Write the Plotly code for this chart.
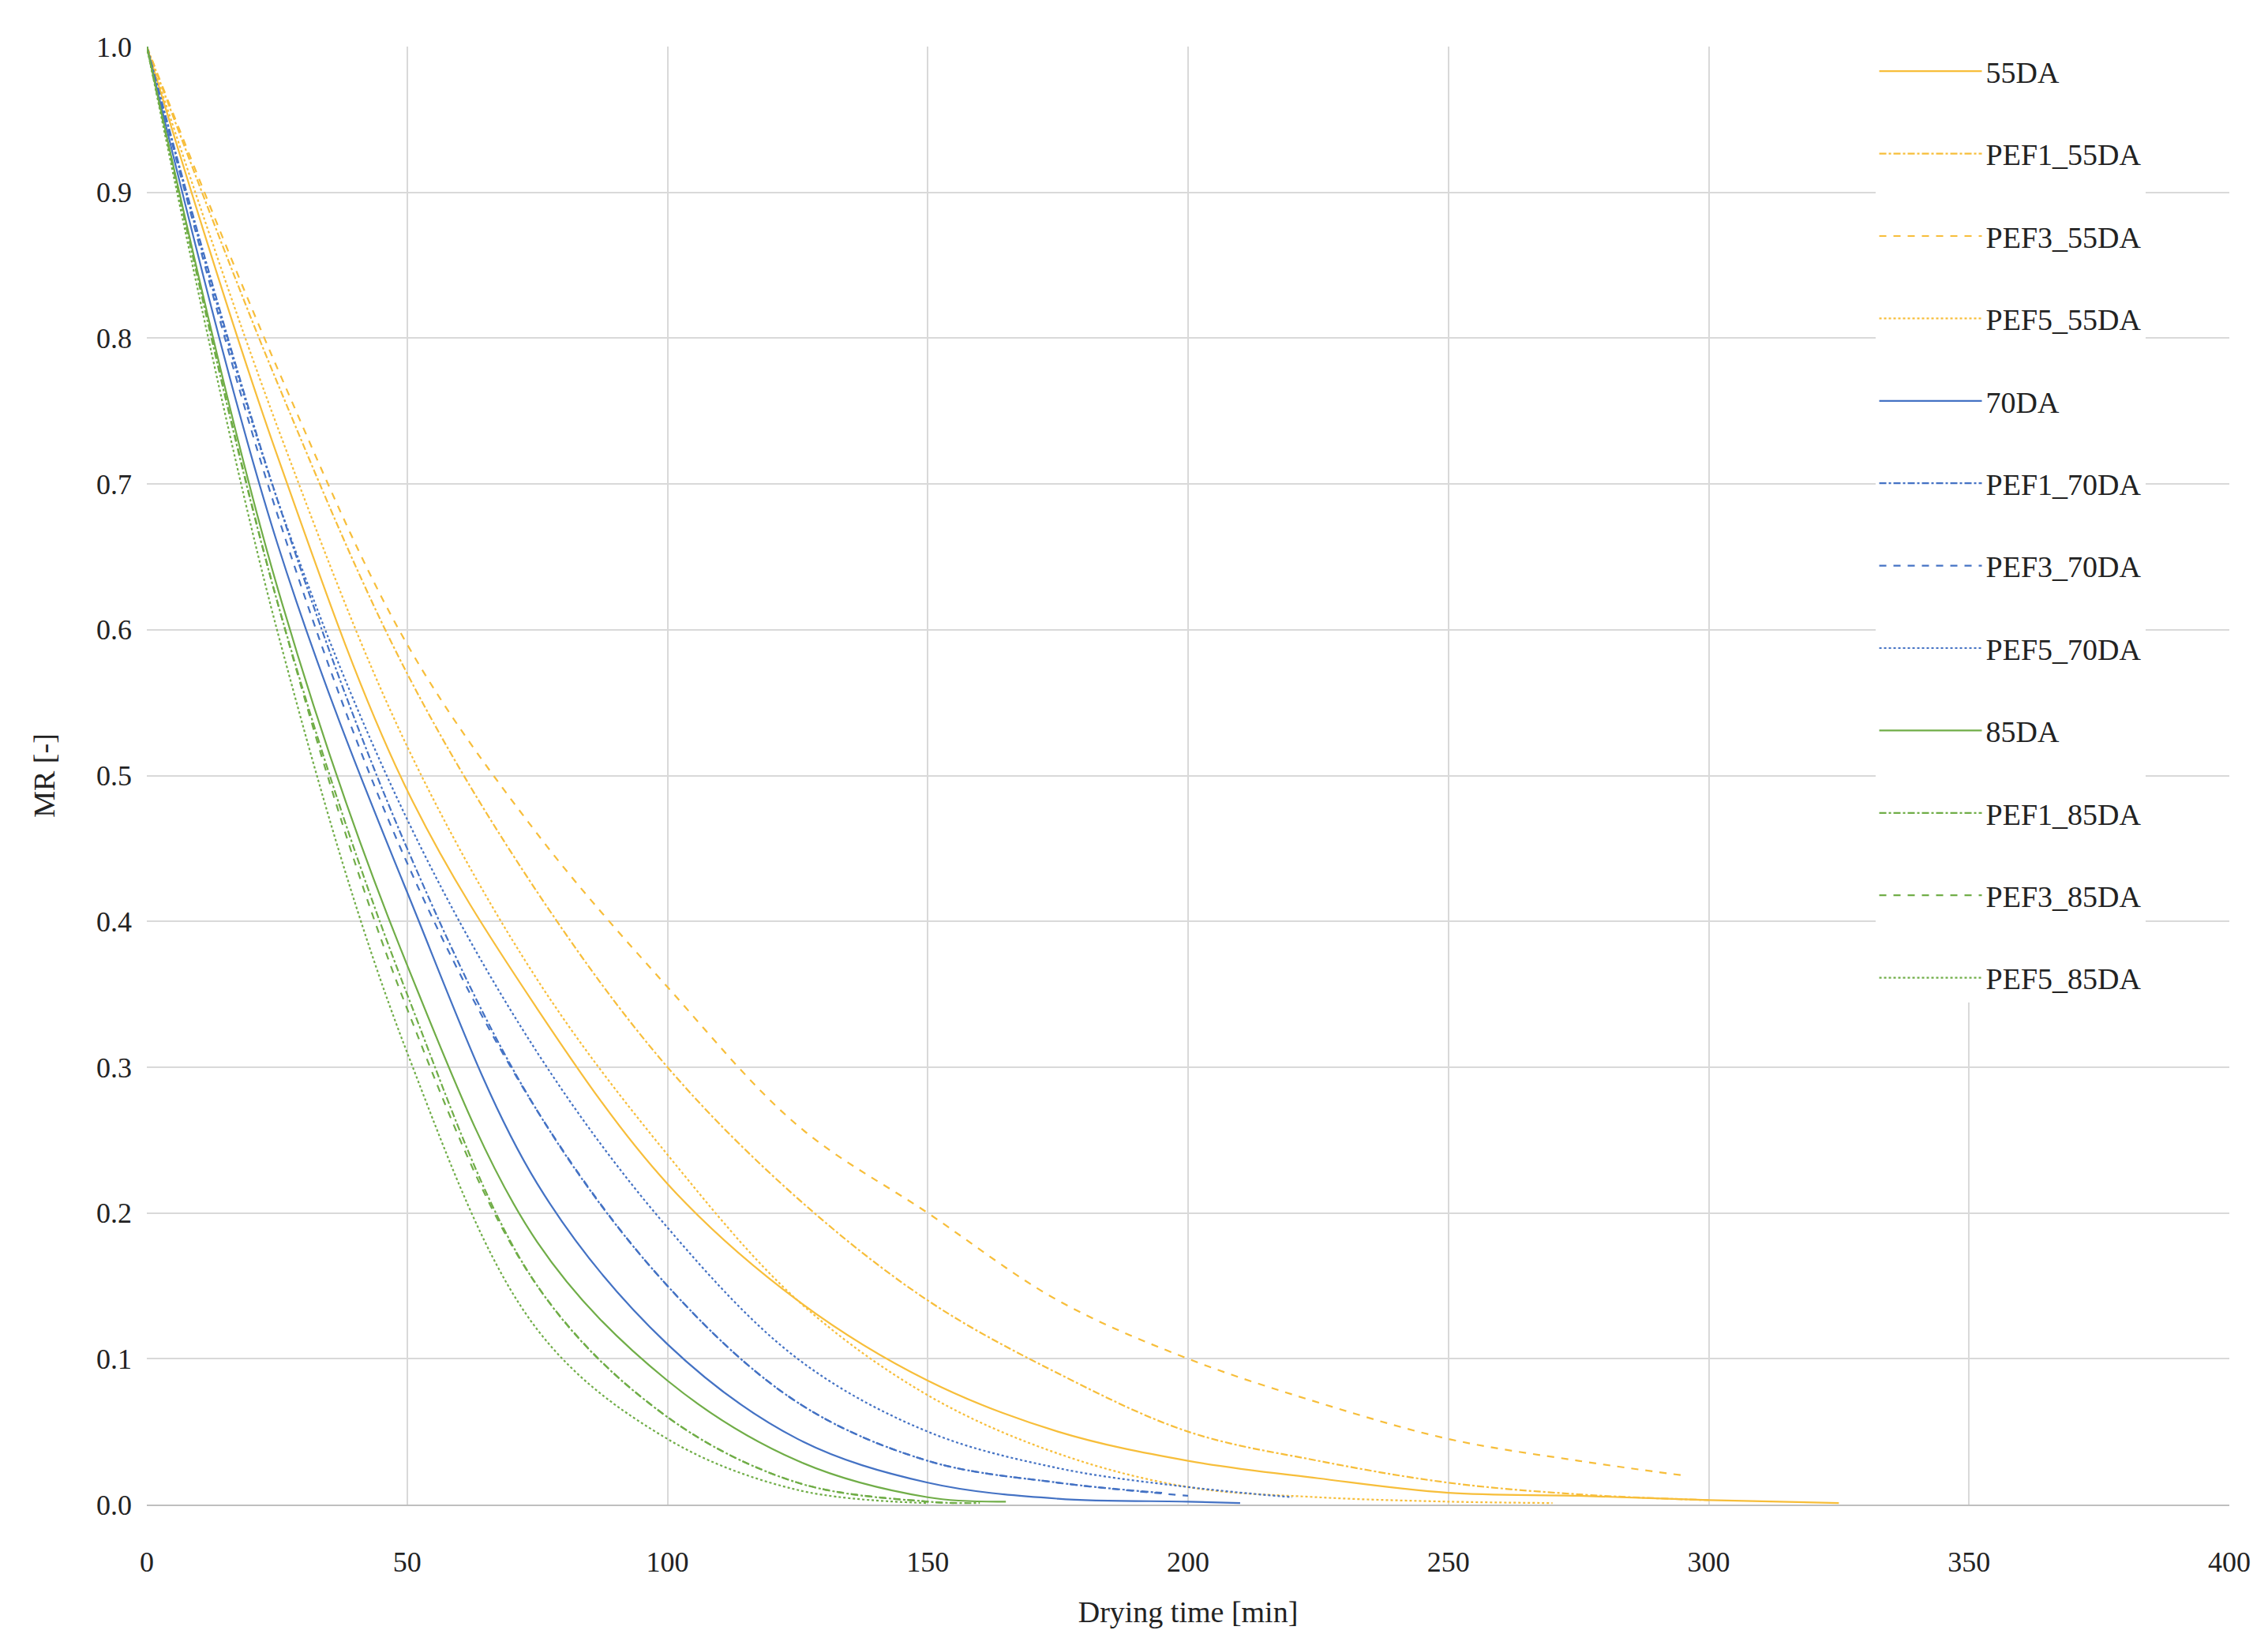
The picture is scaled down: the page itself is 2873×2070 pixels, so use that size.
import plotly.graph_objects as go

names = ["55DA","PEF1_55DA","PEF3_55DA","PEF5_55DA","70DA","PEF1_70DA","PEF3_70DA","PEF5_70DA",
         "85DA","PEF1_85DA","PEF3_85DA","PEF5_85DA"]
t_55DA = [0,25,50,75,100,125,150,175,200,225,250,275,300,325]
mr_55DA = [1.0,0.72,0.49,0.34,0.22,0.14,0.085,0.05,0.03,0.018,0.008,0.006,0.003,0.001]
t_PEF1_55DA = [0,25,50,75,100,125,150,175,200,225,250,275,300]
mr_PEF1_55DA = [1.0,0.77,0.57,0.42,0.30,0.21,0.14,0.09,0.05,0.03,0.015,0.007,0.003]
t_PEF3_55DA = [0,25,50,75,100,125,150,175,200,225,250,275,295]
mr_PEF3_55DA = [1.0,0.78,0.59,0.46,0.355,0.26,0.20,0.14,0.10,0.07,0.045,0.03,0.02]
t_PEF5_55DA = [0,25,50,75,100,125,150,175,200,225,250,270]
mr_PEF5_55DA = [1.0,0.74,0.52,0.36,0.24,0.14,0.075,0.035,0.012,0.005,0.002,0.001]
t_70DA = [0,25,50,75,100,125,150,175,200,210]
mr_70DA = [1.0,0.66,0.42,0.22,0.11,0.045,0.015,0.004,0.002,0.001]
t_PEF1_70DA = [0,25,50,75,100,125,150,175,195]
mr_PEF1_70DA = [1.0,0.69,0.45,0.27,0.15,0.07,0.03,0.015,0.008]
t_PEF3_70DA = [0,25,50,75,100,125,150,175,200]
mr_PEF3_70DA = [1.0,0.68,0.44,0.27,0.15,0.07,0.03,0.015,0.006]
t_PEF5_70DA = [0,25,50,75,100,125,150,175,200,220]
mr_PEF5_70DA = [1.0,0.69,0.47,0.31,0.19,0.10,0.05,0.025,0.012,0.005]
t_85DA = [0,25,50,75,100,125,150,165]
mr_85DA = [1.0,0.63,0.37,0.18,0.085,0.03,0.005,0.002]
t_PEF1_85DA = [0,25,50,75,100,125,150,160]
mr_PEF1_85DA = [1.0,0.62,0.35,0.15,0.06,0.015,0.002,0.001]
t_PEF3_85DA = [0,25,50,75,100,125,150,155]
mr_PEF3_85DA = [1.0,0.62,0.34,0.15,0.06,0.015,0.002,0.001]
t_PEF5_85DA = [0,25,50,75,100,125,150]
mr_PEF5_85DA = [1.0,0.60,0.31,0.12,0.045,0.01,0.001]

data = {
    "55DA": (t_55DA, mr_55DA), "PEF1_55DA": (t_PEF1_55DA, mr_PEF1_55DA),
    "PEF3_55DA": (t_PEF3_55DA, mr_PEF3_55DA), "PEF5_55DA": (t_PEF5_55DA, mr_PEF5_55DA),
    "70DA": (t_70DA, mr_70DA), "PEF1_70DA": (t_PEF1_70DA, mr_PEF1_70DA),
    "PEF3_70DA": (t_PEF3_70DA, mr_PEF3_70DA), "PEF5_70DA": (t_PEF5_70DA, mr_PEF5_70DA),
    "85DA": (t_85DA, mr_85DA), "PEF1_85DA": (t_PEF1_85DA, mr_PEF1_85DA),
    "PEF3_85DA": (t_PEF3_85DA, mr_PEF3_85DA), "PEF5_85DA": (t_PEF5_85DA, mr_PEF5_85DA),
}
colors = {"55": "#F7BE3A", "70": "#4472C4", "85": "#70AD47"}
dashes = {"": "solid", "PEF1": "dashdot", "PEF3": "dash", "PEF5": "dot"}

fig = go.Figure()
for n in names:
    t, y = data[n]
    pre = n.split("_")[0] if "_" in n else ""
    temp = n[-4:-2]
    fig.add_trace(go.Scatter(x=t, y=y, name=n, mode="lines", legendgroup=n,
                             line=dict(color=colors[temp], dash=dashes[pre], width=2.2, shape="spline", smoothing=1.0)))

font = "Liberation Serif"
fig.update_layout(
    width=2873, height=2070, plot_bgcolor="white", paper_bgcolor="white",
    margin=dict(l=178, r=57, t=51, b=172),
    font=dict(family=font, size=36, color="#222"),
    legend=dict(x=0.83, y=1.0, xanchor="left", yanchor="top", bgcolor="white",
                traceorder="grouped", tracegroupgap=52, font=dict(size=38),
                itemwidth=130),
    xaxis=dict(range=[0, 400], dtick=50, showgrid=True, gridcolor="#D9D9D9", gridwidth=2,
               title=dict(text="Drying time [min]", font=dict(size=38), standoff=30), zeroline=False,
               showline=True, linecolor="#BFBFBF", linewidth=2, ticks="", tickfont=dict(size=36),
               ticklabelstandoff=40),
    yaxis=dict(range=[0, 1.0], dtick=0.1, tickformat=".1f", showgrid=True, gridcolor="#D9D9D9",
               gridwidth=2, title=dict(text="MR [-]", font=dict(size=38), standoff=40), zeroline=False,
               showline=False, ticks="", tickfont=dict(size=36), ticklabelstandoff=18),
)
fig.write_html("out.html")
